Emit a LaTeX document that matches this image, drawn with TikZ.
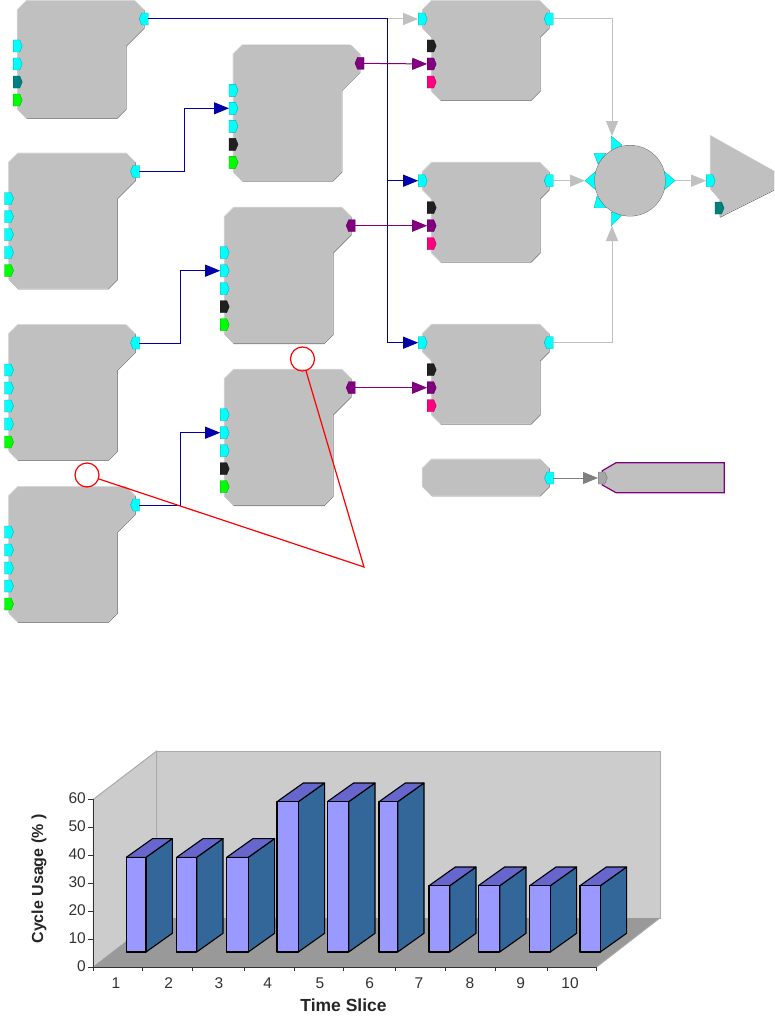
\documentclass[tikz,border=0pt]{standalone}
\usepackage{fontspec}
\setmainfont{Liberation Sans}
\usetikzlibrary{arrows.meta}
\definecolor{blk}{HTML}{C0C0C0}
\definecolor{edgeD}{HTML}{7F7F7F}
\definecolor{edgeL}{HTML}{D8D8D8}
\definecolor{pcyan}{HTML}{00FFFF}
\definecolor{pteal}{HTML}{008080}
\definecolor{pgreen}{HTML}{00FF00}
\definecolor{pblack}{HTML}{202020}
\definecolor{ppurple}{HTML}{800080}
\definecolor{ppink}{HTML}{FF0080}
\definecolor{pgray}{HTML}{A6A6A6}
\definecolor{wnavy}{HTML}{0000AA}
\definecolor{wall}{HTML}{CCCCCC}
\definecolor{wallE}{HTML}{ABABAB}
\definecolor{floorc}{HTML}{999999}
\definecolor{barF}{HTML}{9999FF}
\definecolor{barS}{HTML}{336699}
\definecolor{barT}{HTML}{6666CC}
\tikzset{
  x=1pt,y=-1pt,
  wire/.style={line width=1pt,shorten <=4pt,shorten >=4.5pt,-{Triangle[length=15pt,width=12pt]}},
  navywire/.style={wire,draw=wnavy},
  purplewire/.style={wire,draw=ppurple},
  graywire/.style={wire,draw=blk},
  darkwire/.style={wire,draw=edgeD},
  portline/.style={draw=#1!70!black,line width=.4pt},
  spike/.style={fill=pcyan,draw=pcyan!70!black,line width=.3pt},
  callout/.style={draw=red,line width=1.2pt},
  barline/.style={draw=black,line width=1.1pt,line join=round},
  ticklab/.style={font=\fontsize{15.5}{18}\selectfont,text=black!80,inner sep=0pt},
  axlab/.style={font=\fontsize{16}{18}\selectfont\bfseries,text=black!85,inner sep=0pt},
  axlabx/.style={font=\fontsize{17.5}{20}\selectfont\bfseries,text=black!85,inner sep=0pt},
}
% bevelled polygon
\newcommand\bevel[1]{%
  \draw[edgeD,line width=.8pt,shift={(.4,.4)}] #1 -- cycle;
  \draw[edgeL,line width=.8pt,shift={(-.4,-.4)}] #1 -- cycle;
  \fill[blk] #1 -- cycle;}
% port pointing right / left, centred on (#1,#2), colour #3
\newcommand\inport[3]{\filldraw[fill=#3,portline=#3] (#1-4.5,#2-6) -- (#1+2,#2-6) -- (#1+4.5,#2) -- (#1+2,#2+6) -- (#1-4.5,#2+6) -- cycle;}
\newcommand\outport[3]{\filldraw[fill=#3,portline=#3] (#1+4.5,#2-6) -- (#1-2,#2-6) -- (#1-4.5,#2) -- (#1-2,#2+6) -- (#1+4.5,#2+6) -- cycle;}
% tall block: name, x, y, height, input colours, output colour
\newcommand\tallblock[6]{%
  \begin{scope}[shift={(#2,#3)},name prefix=#1-]
    \bevel{(0,9) -- (9,0) -- (117,0) -- (126,9) -- (126,27) -- (108,45) -- (108,#4-9) -- (99,#4) -- (9,#4) -- (0,#4-9)}
    \foreach \c [count=\i] in {#5}{\coordinate (i\i) at (0,27+18*\i); \inport{0}{27+18*\i}{\c}}
    \coordinate (o) at (126,18); \outport{126}{18}{#6}
  \end{scope}}
% short block with three lower ports
\newcommand\mixblock[3]{%
  \begin{scope}[shift={(#2,#3)},name prefix=#1-]
    \bevel{(0,9) -- (9,0) -- (117,0) -- (126,9) -- (126,27) -- (117,36) -- (117,90) -- (108,99) -- (18,99) -- (9,90) -- (9,36) -- (0,27)}
    \coordinate (i) at (0,18); \inport{0}{18}{pcyan}
    \inport{9}{45}{pblack}
    \coordinate (m) at (9,63); \inport{9}{63}{ppurple}
    \inport{9}{81}{ppink}
    \coordinate (o) at (126,18); \outport{126}{18}{pcyan}
  \end{scope}}
% chart bar: x left, x right, y top
\newcommand\chartbar[3]{%
  \filldraw[barline,fill=barS] (#2,#3) -- (#2+26.3,#3-18.7) -- (#2+26.3,933.3) -- (#2,952) -- cycle;
  \filldraw[barline,fill=barT] (#1,#3) -- (#1+26.3,#3-18.7) -- (#2+26.3,#3-18.7) -- (#2,#3) -- cycle;
  \filldraw[barline,fill=barF] (#1,#3) rectangle (#2,952);}
\begin{document}
\begin{tikzpicture}
\path[use as bounding box] (0,0) rectangle (774,1033);
% blocks
\tallblock{b1}{17.7}{1}{117}{pcyan,pcyan,pteal,pgreen}{pcyan}
\tallblock{b2}{9}{153.5}{135}{pcyan,pcyan,pcyan,pcyan,pgreen}{pcyan}
\tallblock{b3}{9}{325}{135}{pcyan,pcyan,pcyan,pcyan,pgreen}{pcyan}
\tallblock{b4}{9}{487}{135}{pcyan,pcyan,pcyan,pcyan,pgreen}{pcyan}
\tallblock{m1}{233.5}{45.3}{135.5}{pcyan,pcyan,pcyan,pblack,pgreen}{ppurple}
\tallblock{m2}{224.7}{207.7}{135.5}{pcyan,pcyan,pcyan,pblack,pgreen}{ppurple}
\tallblock{m3}{224.7}{369.7}{135.5}{pcyan,pcyan,pcyan,pblack,pgreen}{ppurple}
\mixblock{r1}{422.7}{1}
\mixblock{r2}{422.7}{162.7}
\mixblock{r3}{422.7}{324.7}
% summing junction
\coordinate (j) at (630,180.7);
\filldraw[spike] (611.3,136) -- (611.3,152) -- (622,145) -- cycle;
\filldraw[spike] (594,153.3) -- (606,153.3) -- (598,164) -- cycle;
\filldraw[spike] (585,180.7) -- (596,171) -- (596,190) -- cycle;
\filldraw[spike] (594,207.7) -- (606,207.7) -- (597,196) -- cycle;
\filldraw[spike] (611.3,226) -- (611.3,212) -- (622,215) -- cycle;
\filldraw[spike] (675,180.7) -- (664,171) -- (664,190) -- cycle;
\draw[edgeD,line width=.8pt] (j) circle[radius=35.3];
\fill[blk] (j) circle[radius=35];
\coordinate (jt) at (612,136);
\coordinate (jb) at (612,226);
\coordinate (jl) at (585,180.7);
\coordinate (jr) at (675,180.7);
% output triangle
\bevel{(710.7,136) -- (773.3,171) -- (773.3,190) -- (720,216.7) -- (720,199.5) -- (710.7,189)}
\coordinate (ti) at (710.7,180.7); \inport{710.7}{180.7}{pcyan}
\inport{719.5}{208}{pteal}
% lower block pair
\bevel{(422.7,468.5) -- (431.7,459.5) -- (540,459.5) -- (549,468.5) -- (549,486.5) -- (540,495.5) -- (431.7,495.5) -- (422.7,486.5)}
\coordinate (lo) at (549,478); \outport{549}{478}{pcyan}
\filldraw[fill=blk,draw=ppurple,line width=1.2pt] (602.3,470.7) -- (616,462.7) -- (724.3,462.7) -- (724.3,492.7) -- (616,492.7) -- (602.3,485) -- cycle;
\coordinate (li) at (602.5,478); \inport{602.8}{478}{pgray}
% wires
\coordinate (bus) at (387.6,100);
\coordinate (k2) at (184.5,140);
\coordinate (k3) at (180.5,300);
\coordinate (k4) at (180.5,470);
\draw[graywire,shorten <=0pt] (bus |- r1-i) -- (r1-i);
\draw[navywire,-,shorten >=0pt] (b1-o) -| (bus);
\draw[navywire,shorten <=0pt] (bus) |- (r2-i);
\draw[navywire,shorten <=0pt] (bus) |- (r3-i);
\draw[navywire] (b2-o) -| (k2) |- (m1-i2);
\draw[navywire] (b3-o) -| (k3) |- (m2-i2);
\draw[navywire] (b4-o) -| (k4) |- (m3-i2);
\draw[purplewire] (m1-o) -- (r1-m);
\draw[purplewire] (m2-o) -- (r2-m);
\draw[purplewire] (m3-o) -- (r3-m);
\draw[graywire,shorten >=0pt] (r1-o) -| (jt);
\draw[graywire,shorten >=0pt] (r3-o) -| (jb);
\draw[graywire,shorten >=0pt] (r2-o) -- (jl);
\draw[graywire,shorten <=0pt] (jr) -- (ti);
\draw[darkwire] (lo) -- (li);
% callout
\coordinate (cv) at (364,567);
\node[callout,circle,minimum size=24pt,inner sep=0pt] (c1) at (87,475) {};
\node[callout,circle,minimum size=24pt,inner sep=0pt] (c2) at (302.5,359) {};
\draw[callout] (c1) -- (cv) -- (c2);
% chart walls
\filldraw[fill=wall,draw=wallE,line width=1pt] (156.7,751) rectangle (660,918);
\filldraw[fill=wall,draw=wallE,line width=1pt] (93.3,799.3) -- (156.7,751) -- (156.7,918) -- (93.3,967) -- cycle;
\fill[floorc] (93.3,967) -- (156.7,918) -- (660,918) -- (596.7,967) -- cycle;
\draw[wallE,line width=.8pt] (660,918) -- (596.7,967);
% axes
\draw[black!80,line width=1pt] (93.3,799.3) -- (93.3,967) -- (596.7,967);
\foreach \y/\l in {799.3/60,827.3/50,855/40,883/30,911/20,939/10,967/0}{
  \draw[black!80,line width=1pt] (88,\y) -- (93.3,\y);
  \node[ticklab,anchor=east] (yl\l) at (86,\y-1) {\l};}
\foreach \x in {93.3,142,192.3,244,294.3,343.3,395,445,495.3,547,596.7}
  \draw[black!80,line width=1pt] (\x,967) -- (\x,971);
\foreach \x/\l in {116/1,168.7/2,219/3,267.7/4,320/5,369.7/6,419/7,470/8,520.7/9,570/10}
  \node[ticklab] (xl\l) at (\x,983) {\l};
% bars
\chartbar{126.3}{146}{857.3}
\chartbar{176.7}{196.7}{857.3}
\chartbar{226.7}{248.3}{857.3}
\chartbar{277}{298.3}{801.7}
\chartbar{327.3}{348.7}{801.7}
\chartbar{379}{397.7}{801.7}
\chartbar{429}{449.7}{885.7}
\chartbar{478.3}{499.7}{885.7}
\chartbar{529.7}{550.3}{885.7}
\chartbar{580}{600.3}{885.7}
% axis titles
\node[axlabx] (xt) at (343.5,1005.7) {Time Slice};
\node[axlab,rotate=90] (yt) at (39,879) {Cycle Usage (\% )};
\end{tikzpicture}
\end{document}
